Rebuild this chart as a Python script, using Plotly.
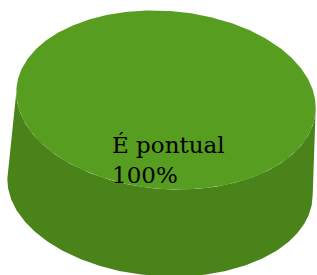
import numpy as np
import plotly.graph_objects as go

labels = ["É pontual"]
values = [100]
colors_top = ["#579d1f"]
colors_side = ["#4a831a"]

W, H = 317, 275
# geometry of the 3D pie (style)
top_c, top_ab = (166, 100), (150, 89)
bot_c, bot_ab = (160, 187), (153, 89)
phi = np.deg2rad(4.5)


def ell(c, ab, t):
    a, b = ab
    x = c[0] + a * np.cos(t) * np.cos(phi) - b * np.sin(t) * np.sin(phi)
    y = c[1] + a * np.cos(t) * np.sin(phi) + b * np.sin(t) * np.cos(phi)
    return x, y


total = sum(values)
fig = go.Figure()
start = 0.0
for lab, val, ct, cs in zip(labels, values, colors_top, colors_side):
    sweep = 2 * np.pi * val / total
    t0 = np.arctan2(-top_ab[1] * np.sin(phi), top_ab[0] * np.cos(phi))
    t1 = np.arctan2(-bot_ab[1] * np.sin(phi), bot_ab[0] * np.cos(phi))
    ta = np.linspace(t0, t0 + np.pi, 200)
    tb = np.linspace(t1 + np.pi, t1, 200)
    x1, y1 = ell(top_c, top_ab, ta)
    x2, y2 = ell(bot_c, bot_ab, tb)
    sx = np.concatenate([x1, x2])
    sy = np.concatenate([y1, y2])
    fig.add_trace(go.Scatter(x=sx, y=sy, fill="toself", fillcolor=cs, mode="lines",
                             line=dict(width=0, color=cs), hoverinfo="skip", showlegend=False))
    t = np.linspace(start, start + sweep, 400)
    tx, ty = ell(top_c, top_ab, t)
    fig.add_trace(go.Scatter(x=tx, y=ty, fill="toself", fillcolor=ct, mode="lines",
                             line=dict(width=0, color=ct), hoverinfo="skip", showlegend=False))
    pct = 100 * val / total
    fig.add_annotation(x=110, y=160, xanchor="left", yanchor="middle", align="left",
                       text=f"{lab}<br>{pct:.0f}%", showarrow=False,
                       font=dict(family="DejaVu Serif", size=23, color="#000000"))
    start += sweep

fig.update_xaxes(range=[0, W], visible=False, fixedrange=True)
fig.update_yaxes(range=[H, 0], visible=False, fixedrange=True)
fig.update_layout(width=W, height=H, margin=dict(l=0, r=0, t=0, b=0),
                  plot_bgcolor="white", paper_bgcolor="white")
fig.write_html("out.html", config={"displayModeBar": False},
               post_script="document.body.style.margin='0';")
